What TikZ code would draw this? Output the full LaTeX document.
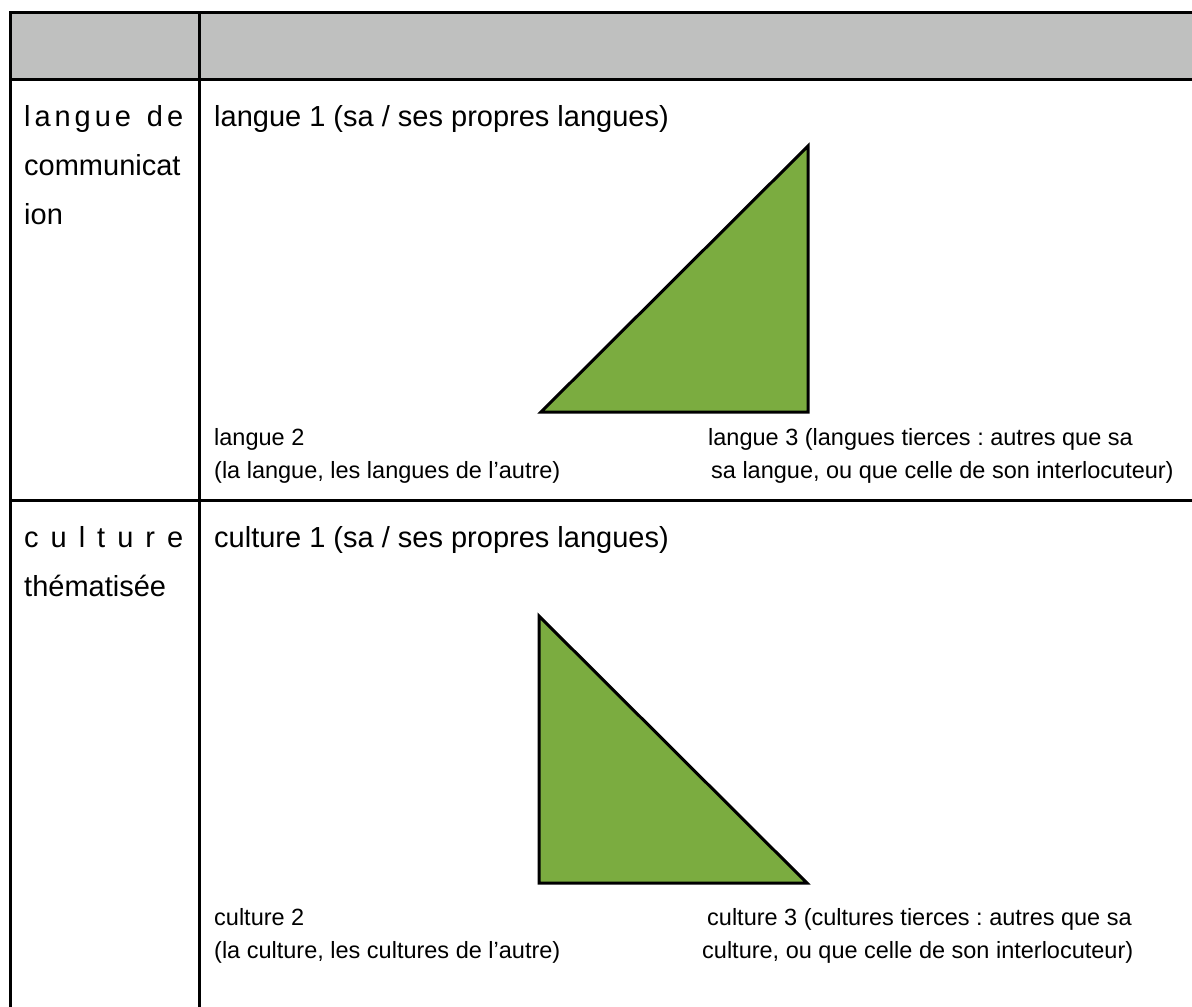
\documentclass[tikz,border=0pt]{standalone}
\usepackage{fontspec}
\setmainfont{Liberation Sans}
\frenchspacing
\definecolor{hdrgray}{RGB}{191,192,191}
\definecolor{trigreen}{RGB}{123,172,64}
\begin{document}
\begin{tikzpicture}[x=1pt,y=-1pt,
  rule/.style={line width=3pt},
  big/.style={anchor=base west, inner sep=0pt, font=\fontsize{29}{35}\selectfont\frenchspacing},
  small/.style={anchor=base west, inner sep=0pt, font=\fontsize{23.5}{28}\selectfont\frenchspacing},
  tri/.style={fill=trigreen, draw=black, line width=3pt, line join=miter}]
\useasboundingbox (0,0) rectangle (1192,1007);
% table
\fill[hdrgray] (10,12) rectangle (1192,79);
\draw[rule] (1192,12) -- (10,12) -- (10,1007);
\draw[rule] (10,79) -- (1192,79);
\draw[rule] (10,500) -- (1192,500);
\draw[rule] (199,12) -- (199,1007);
% row 1 : langue
\node[big] (lc1) at (24,126) {\hbox to 159pt{l\hfil a\hfil n\hfil g\hfil u\hfil e\hfil\ \hfil d\hfil e}};
\node[big] (lc2) at (24,175) {communicat};
\node[big] (lc3) at (24,224) {ion};
\node[big] (l1) at (214,126) {langue 1 (sa / ses propres langues)};
\coordinate (t1a) at (541,412);
\coordinate (t1b) at (808,412);
\coordinate (t1c) at (808,146);
\draw[tri] (t1a) -- (t1b) -- (t1c) -- cycle;
\node[small] (l2a) at (214,445) {langue 2};
\node[small] (l2b) at (214,478) {(la langue, les langues de l’autre)};
\node[small] (l3a) at (708,445) {langue 3 (langues tierces : autres que sa};
\node[small] (l3b) at (711,478) {sa langue, ou que celle de son interlocuteur)};
% row 2 : culture
\node[big] (cc1) at (24,547) {\hbox to 159pt{c\hfil u\hfil l\hfil t\hfil u\hfil r\hfil e}};
\node[big] (cc2) at (24,596) {thématisée};
\node[big] (c1) at (214,547) {culture 1 (sa / ses propres langues)};
\coordinate (t2a) at (539,616);
\coordinate (t2b) at (539,883);
\coordinate (t2c) at (807,883);
\draw[tri] (t2a) -- (t2b) -- (t2c) -- cycle;
\node[small] (c2a) at (214,925) {culture 2};
\node[small] (c2b) at (214,958) {(la culture, les cultures de l’autre)};
\node[small] (c3a) at (707,925) {culture 3 (cultures tierces : autres que sa};
\node[small] (c3b) at (702,958) {culture, ou que celle de son interlocuteur)};
\end{tikzpicture}
\end{document}
